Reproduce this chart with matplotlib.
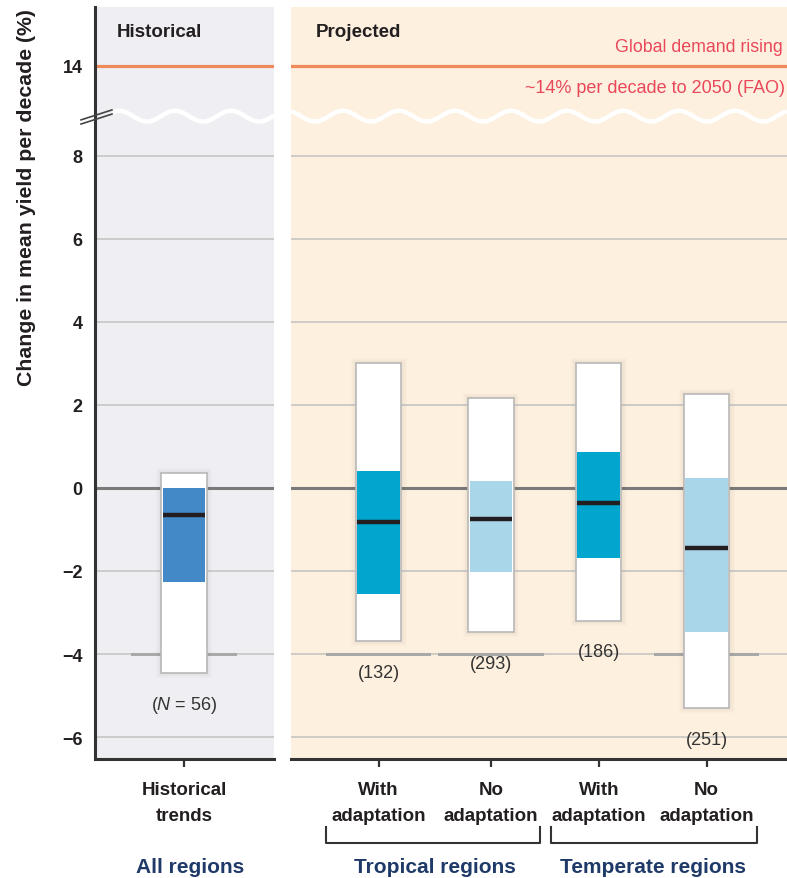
import numpy as np
import matplotlib
matplotlib.use("Agg")
import matplotlib.pyplot as plt
from matplotlib.patches import Rectangle
import matplotlib.transforms as mtransforms

plt.rcParams['font.family'] = ['Liberation Sans', 'DejaVu Sans']
plt.rcParams['mathtext.fontset'] = 'custom'
plt.rcParams['mathtext.it'] = 'Liberation Sans:italic'
plt.rcParams['mathtext.rm'] = 'Liberation Sans'

# ------------------------------------------------------------------
# data
# ------------------------------------------------------------------
tick_labels = ["Historical\ntrends", "With\nadaptation", "No\nadaptation",
               "With\nadaptation", "No\nadaptation"]
positions   = [0.0, 1.77, 2.79, 3.77, 4.75]
whisk_lo    = [-4.46, -3.69, -3.47, -3.20, -5.30]
whisk_hi    = [0.36, 3.01, 2.17, 3.01, 2.27]
q_lo        = [-2.27, -2.55, -2.03, -1.69, -3.47]
q_hi        = [0.00, 0.41, 0.17, 0.87, 0.24]
medians     = [-0.65, -0.82, -0.75, -0.36, -1.45]
n_labels    = [r"($\mathit{N}$ = 56)", "(132)", "(293)", "(186)", "(251)"]
fill_cols   = ["#4389C8", "#00A6CE", "#A9D6E9", "#00A6CE", "#A9D6E9"]
floor_marks = [True, True, True, False, True]

groups      = ["All regions", "Tropical regions", "Temperate regions"]
demand      = 14          # FAO global demand, % per decade
y_ticks     = [-6, -4, -2, 0, 2, 4, 6, 8]

# broken axis: values above the break are shifted down
BREAK_SHIFT = 3.83
def yb(v):
    return v - BREAK_SHIFT if v > 10 else v

# ------------------------------------------------------------------
fig = plt.figure(figsize=(7.87, 8.79), dpi=100)
YMIN, YMAX = -6.53, 11.59
bot, hgt = 119 / 879, 752 / 879
axL = fig.add_axes([95 / 787, bot, 179 / 787, hgt])
axR = fig.add_axes([291 / 787, bot, 496 / 787, hgt], sharey=axL)
axL.set_xlim(-0.809, 0.818)
axR.set_xlim(0.973, 5.48)
axL.set_ylim(YMIN, YMAX)

axL.set_facecolor("#EFEFF3")
axR.set_facecolor("#FDF0DE")

DARK = "#231F20"
for ax in (axL, axR):
    for s in ("top", "right"):
        ax.spines[s].set_visible(False)
    ax.spines["bottom"].set_linewidth(2.2)
    ax.spines["bottom"].set_color("#333333")
    ax.tick_params(axis="x", length=6, width=1.6, color="#333333",
                   pad=10, labelsize=13.5, labelcolor=DARK)
    for g in y_ticks:
        if g == 0:
            ax.axhline(g, color="#7A7A7A", lw=2.2, zorder=1)
        else:
            ax.axhline(g, color="#C2C2C2", lw=1.1, zorder=1)
    ax.axhline(yb(demand), color="#F08A5B", lw=2.3, zorder=1)

axR.spines["left"].set_visible(False)
axR.tick_params(axis="y", left=False, labelleft=False)
axL.spines["left"].set_linewidth(2.2)
axL.spines["left"].set_color("#333333")

ytick_pos = y_ticks + [yb(demand)]
ytick_lab = [str(t).replace("-", "\u2212") for t in y_ticks] + [str(demand)]
axL.set_yticks(ytick_pos)
axL.set_yticklabels(ytick_lab, fontsize=13, fontweight="bold", color=DARK)
axL.tick_params(axis="y", length=0, pad=9)

# wavy break line
def wave(ax, x0, x1):
    xs = np.linspace(x0, x1, 400)
    ys = 8.96 - 0.13 * np.cos(2 * np.pi * (xs - 0.173) / 0.509)
    ax.plot(xs, ys, color="white", lw=3.2, zorder=2, solid_capstyle="butt")

wave(axL, -0.65, 0.818)
wave(axR, 0.973, 5.48)

# break marks on the spine
for dy in (0.0, -0.1):
    axL.plot([-0.936, -0.655], [8.87 + dy, 9.11 + dy], color="#444444",
             lw=1.2, clip_on=False, zorder=5)

# ------------------------------------------------------------------
# boxes
# ------------------------------------------------------------------
W = 0.41
for i, x in enumerate(positions):
    ax = axL if i == 0 else axR
    if floor_marks[i]:
        ax.plot([x - 0.47, x + 0.46], [-4, -4], color="#A9A9A9", lw=2.2, zorder=1.5)
    # soft shadow
    for k in range(1, 6):
        pad = 0.01 * k
        ax.add_patch(Rectangle((x - W / 2 - pad, whisk_lo[i] - pad * 2.4),
                               W + 2 * pad, whisk_hi[i] - whisk_lo[i] + 4.8 * pad,
                               facecolor="#666666", edgecolor="none",
                               alpha=0.018, zorder=2.5))
    ax.add_patch(Rectangle((x - W / 2, whisk_lo[i]), W, whisk_hi[i] - whisk_lo[i],
                           facecolor="white", edgecolor="#B8B8B8", lw=1.2, zorder=3))
    ax.add_patch(Rectangle((x - W / 2 + 0.01, q_lo[i]), W - 0.02, q_hi[i] - q_lo[i],
                           facecolor=fill_cols[i], edgecolor="none", zorder=4))
    ax.plot([x - W / 2 + 0.01, x + W / 2 - 0.01], [medians[i], medians[i]],
            color=DARK, lw=3.2, zorder=5, solid_capstyle="butt")
    ax.text(x, whisk_lo[i] - 0.75, n_labels[i], ha="center", va="center",
            fontsize=13, color="#333333", zorder=6)

axL.set_xticks(positions[:1])
axL.set_xticklabels(tick_labels[:1], fontweight="bold", linespacing=1.7)
axR.set_xticks(positions[1:])
axR.set_xticklabels(tick_labels[1:], fontweight="bold", linespacing=1.7)

# panel titles and demand note
axL.text(-0.61, 10.99, "Historical", fontsize=13.5, fontweight="bold",
         color=DARK, ha="left", va="center")
axR.text(1.20, 10.99, "Projected", fontsize=13.5, fontweight="bold",
         color=DARK, ha="left", va="center")
axR.text(5.445, 10.64, "Global demand rising", fontsize=12.8,
         color="#E9475A", ha="right", va="center")
axR.text(5.46, 9.66, "~14% per decade to 2050 (FAO)", fontsize=13,
         color="#E9475A", ha="right", va="center")

# brackets and region labels
NAVY = "#1F3A68"
trR = mtransforms.blended_transform_factory(axR.transData, axR.transAxes)
trL = mtransforms.blended_transform_factory(axL.transData, axL.transAxes)
y_top, y_bot = -0.0904, -0.1117
brackets = [(positions[1] - 0.48, positions[2] + 0.45),
            (positions[3] - 0.43, positions[4] + 0.46)]
for xa, xb in brackets:
    axR.plot([xa, xa, xb, xb], [y_top, y_bot, y_bot, y_top], color="#333333",
             lw=1.5, transform=trR, clip_on=False)

y_grp = -0.1430
grp_kw = dict(ha="center", va="center", fontsize=15, fontweight="bold", color=NAVY)
axL.text(positions[0] + 0.06, y_grp, groups[0], transform=trL, **grp_kw)
axR.text((positions[1] + positions[2]) / 2, y_grp, groups[1], transform=trR, **grp_kw)
axR.text((positions[3] + positions[4]) / 2, y_grp, groups[2], transform=trR, **grp_kw)

fig.text(27 / 787, 1 - 198 / 879, "Change in mean yield per decade (%)",
         rotation=90, ha="center", va="center", fontsize=15.3,
         fontweight="bold", color=DARK)

fig.savefig("out.png", dpi=100)
